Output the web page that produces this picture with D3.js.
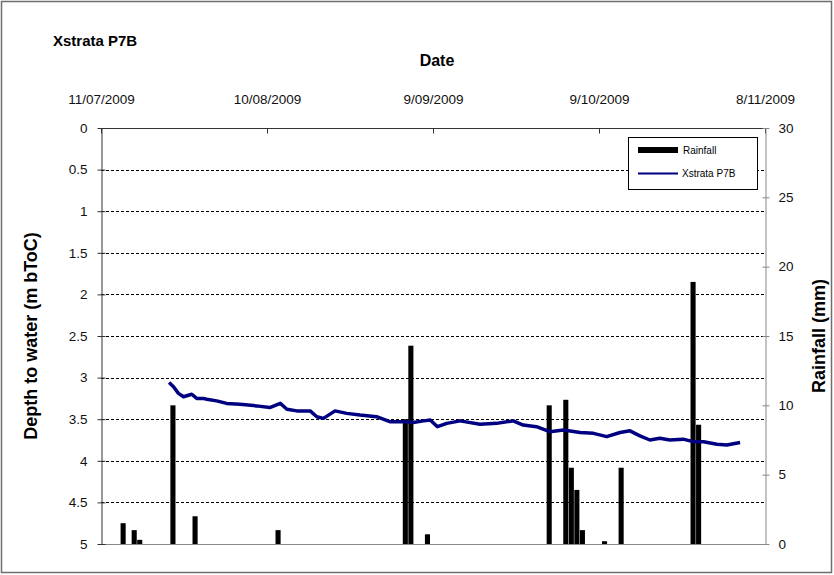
<!DOCTYPE html>
<html>
<head>
<meta charset="utf-8">
<script src="https://cdn.jsdelivr.net/npm/d3@7"></script>
<style>
  html, body { margin: 0; padding: 0; background: #fff; }
  svg { display: block; font-family: "Liberation Sans", Arial, sans-serif; }
</style>
</head>
<body>
<svg id="chart" width="834" height="575"></svg>
<script>
// ---- data ----
const chartTitle = "Xstrata P7B";
const startDate = "2009-07-11";
const endDate = "2009-11-08";
const dateTicks = ["2009-07-11", "2009-08-10", "2009-09-09", "2009-10-09", "2009-11-08"];
const depthTicks = [0, 0.5, 1, 1.5, 2, 2.5, 3, 3.5, 4, 4.5, 5];
const rainTicks = [0, 5, 10, 15, 20, 25, 30];

// daily rainfall (mm)
const rainDates = ["2009-07-15", "2009-07-17", "2009-07-18", "2009-07-24", "2009-07-28", "2009-08-12",
  "2009-09-04", "2009-09-05", "2009-09-08", "2009-09-30", "2009-10-03", "2009-10-04", "2009-10-05",
  "2009-10-06", "2009-10-10", "2009-10-13", "2009-10-26", "2009-10-27"];
const rainValues = [1.5, 1.0, 0.3, 10.0, 2.0, 1.0, 9.0, 14.3, 0.7, 10.0, 10.4, 5.5, 3.9, 1.0, 0.2, 5.5, 18.9, 8.6];

// water level: days since 11/07/2009 and depth (m bToC)
const levelDays = [12.3, 13.1, 14.0, 14.9, 16.4, 17.3, 18.5, 19.1, 20.9, 22.7, 25.1, 28.1, 30.5, 32.4,
  33.6, 35.4, 37.8, 39.0, 40.2, 42.3, 44.4, 46.8, 49.8, 52.2, 55.2, 56.4, 58.3, 59.5, 60.8, 62.5,
  64.9, 68.5, 71.5, 74.5, 76.3, 78.7, 81.1, 83.6, 86.6, 89.0, 91.4, 93.8, 95.6, 97.4, 99.2, 101.0,
  102.8, 105.2, 107.0, 108.9, 111.3, 113.1, 115.5];
const levelDepth = [3.06, 3.11, 3.19, 3.23, 3.20, 3.25, 3.25, 3.26, 3.28, 3.31, 3.32, 3.34, 3.36, 3.31,
  3.38, 3.40, 3.40, 3.47, 3.49, 3.40, 3.43, 3.45, 3.47, 3.53, 3.53, 3.54, 3.52, 3.51, 3.59, 3.55,
  3.52, 3.56, 3.55, 3.52, 3.57, 3.59, 3.65, 3.63, 3.66, 3.67, 3.71, 3.66, 3.64, 3.70, 3.75, 3.73,
  3.75, 3.74, 3.77, 3.77, 3.80, 3.81, 3.78];

// ---- layout ----
const svg = d3.select("#chart");
const L = 101, R = 765, T = 128, B = 544;
const parse = d3.timeParse("%Y-%m-%d");
const start = parse(startDate);
const DAY = 86400000;

const x = d3.scaleTime().domain([start, parse(endDate)]).range([L, R]);
const yDepth = d3.scaleLinear().domain([0, 5]).range([T, B]);
const yRain = d3.scaleLinear().domain([0, 30]).range([B, T]);

// outer border
svg.append("rect").attr("x", 1.5).attr("y", 1.5).attr("width", 830).attr("height", 571)
  .attr("fill", "#fff").attr("stroke", "#6e6e6e").attr("stroke-width", 1.5);

// gridlines
svg.append("g").selectAll("line").data(depthTicks.filter(d => d > 0 && d < 5)).join("line")
  .attr("x1", L).attr("x2", R)
  .attr("y1", d => Math.round(yDepth(d)) + 0.5).attr("y2", d => Math.round(yDepth(d)) + 0.5)
  .attr("stroke", "#000").attr("stroke-dasharray", "3,2").attr("stroke-width", 1);

// rainfall bars
const barW = (x(new Date(start.getTime() + DAY)) - x(start)) * 0.92;
svg.append("g").selectAll("rect").data(rainDates.map((d, i) => ({ d: parse(d), v: rainValues[i] })))
  .join("rect")
  .attr("x", d => x(d.d) - barW / 2)
  .attr("width", barW)
  .attr("y", d => yRain(d.v))
  .attr("height", d => yRain(0) - yRain(d.v))
  .attr("fill", "#000");

// level line
const levelData = levelDays.map((d, i) => ({ t: new Date(start.getTime() + d * DAY), v: levelDepth[i] }));
svg.append("path").datum(levelData)
  .attr("d", d3.line().x(d => x(d.t)).y(d => yDepth(d.v)))
  .attr("fill", "none").attr("stroke", "#000080").attr("stroke-width", 3.5)
  .attr("stroke-linejoin", "round");

// plot frame lines
svg.append("line").attr("x1", L).attr("x2", R).attr("y1", T + 0.5).attr("y2", T + 0.5)
  .attr("stroke", "#333").attr("stroke-width", 1);
svg.append("line").attr("x1", L).attr("x2", R).attr("y1", B + 0.5).attr("y2", B + 0.5)
  .attr("stroke", "#888").attr("stroke-width", 1);

// axes
const fmtDate = d => `${d.getDate()}/${String(d.getMonth() + 1).padStart(2, "0")}/${d.getFullYear()}`;
const topAxis = svg.append("g").attr("transform", `translate(0,${T + 0.5})`)
  .call(d3.axisTop(x).tickValues(dateTicks.map(parse)).tickFormat(fmtDate)
    .tickSizeInner(-5).tickSizeOuter(0).tickPadding(25));
topAxis.select(".domain").remove();
topAxis.selectAll(".tick line").attr("stroke", "#333");
topAxis.selectAll("text").attr("font-size", 13.5).attr("fill", "#111");

const leftAxis = svg.append("g").attr("transform", `translate(${L + 0.5},0)`)
  .call(d3.axisLeft(yDepth).tickValues(depthTicks).tickFormat(d => String(d))
    .tickSizeInner(4).tickSizeOuter(0).tickPadding(10));
leftAxis.select(".domain").attr("stroke", "#333");
leftAxis.selectAll(".tick line").attr("x1", 4).attr("x2", -4).attr("stroke", "#333");
leftAxis.selectAll("text").attr("font-size", 13.5).attr("fill", "#111");

const rightAxis = svg.append("g").attr("transform", `translate(${R + 0.5},0)`)
  .call(d3.axisRight(yRain).tickValues(rainTicks)
    .tickSizeInner(4).tickSizeOuter(0).tickPadding(9));
rightAxis.select(".domain").attr("stroke", "#888");
rightAxis.selectAll(".tick line").attr("x1", -3).attr("x2", 4).attr("stroke", "#888");
rightAxis.selectAll("text").attr("font-size", 13.5).attr("fill", "#111");

// titles
svg.append("text").attr("x", 53).attr("y", 46).attr("font-size", 15).attr("font-weight", "bold")
  .text(chartTitle);
svg.append("text").attr("x", 437).attr("y", 66).attr("text-anchor", "middle")
  .attr("font-size", 16).attr("font-weight", "bold").text("Date");
svg.append("text").attr("transform", `translate(37,${(T + B) / 2}) rotate(-90)`)
  .attr("text-anchor", "middle").attr("font-size", 18).attr("font-weight", "bold")
  .text("Depth to water (m bToC)");
svg.append("text").attr("transform", `translate(825,${(T + B) / 2}) rotate(-90)`)
  .attr("text-anchor", "middle").attr("font-size", 18).attr("font-weight", "bold")
  .text("Rainfall (mm)");

// legend
const lg = svg.append("g").attr("transform", "translate(628,137)");
lg.append("rect").attr("x", 0.5).attr("y", 0.5).attr("width", 129).attr("height", 52)
  .attr("fill", "#fff").attr("stroke", "#000").attr("stroke-width", 1);
lg.append("rect").attr("x", 10).attr("y", 10).attr("width", 40).attr("height", 6).attr("fill", "#000");
lg.append("text").attr("x", 55).attr("y", 17).attr("font-size", 10).text("Rainfall");
lg.append("line").attr("x1", 10).attr("x2", 50).attr("y1", 36.5).attr("y2", 36.5)
  .attr("stroke", "#000080").attr("stroke-width", 2);
lg.append("text").attr("x", 54).attr("y", 40).attr("font-size", 10).text("Xstrata P7B");
</script>
</body>
</html>
